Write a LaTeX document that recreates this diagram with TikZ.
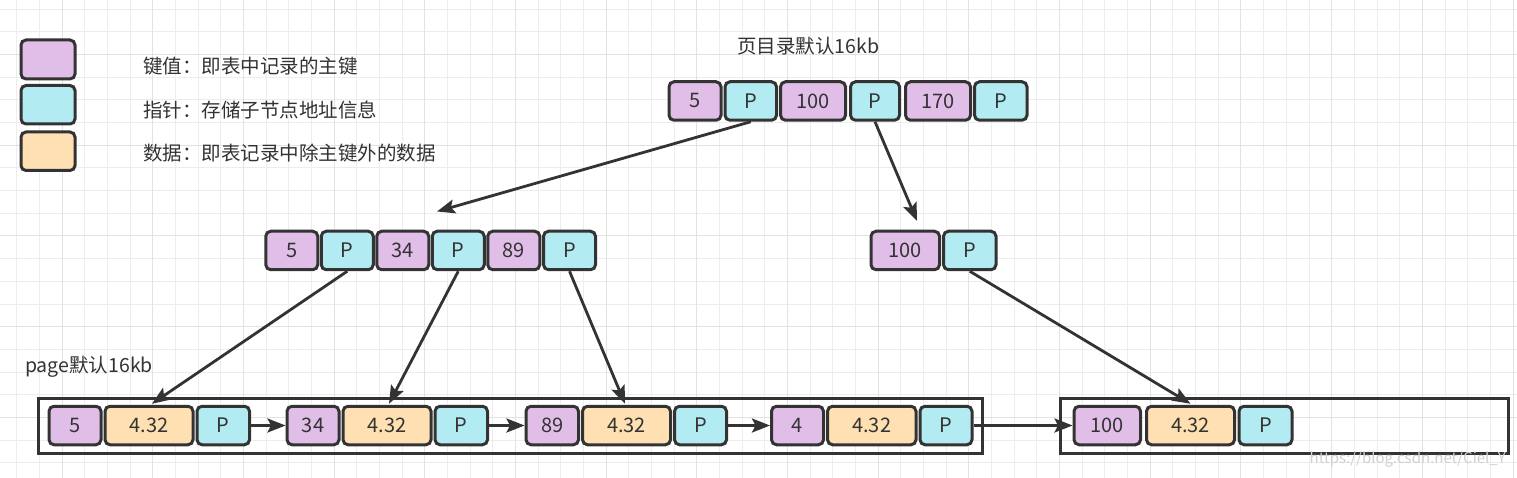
\documentclass[tikz,border=0pt]{standalone}
\usepackage{fontspec}
\setmainfont{Noto Sans CJK SC}
\usetikzlibrary{arrows.meta}

\definecolor{keyc}{HTML}{E1BEE7}
\definecolor{ptrc}{HTML}{B2EBF2}
\definecolor{datc}{HTML}{FFE0B2}
\definecolor{edge}{HTML}{333333}
\definecolor{txt}{HTML}{333333}
\definecolor{gridminor}{HTML}{EDEDED}
\definecolor{gridmajor}{HTML}{E2E2E2}
\definecolor{markc}{HTML}{D0D0D0}

\newcommand{\cellfont}{\fontsize{20}{22}\selectfont}
\newcommand{\lblfont}{\fontsize{19.5}{22}\selectfont}

\tikzset{
  cellbox/.style={draw=edge, line width=3pt, rounded corners=5pt, inner sep=0pt,
                  minimum height=38.5pt, font=\cellfont, text=txt},
  keycell/.style={cellbox, fill=keyc},
  ptrcell/.style={cellbox, fill=ptrc},
  datcell/.style={cellbox, fill=datc},
  link/.style={draw=edge, line width=2.8pt, -{Stealth[length=18pt,width=14pt,inset=3.5pt]}},
  pagebox/.style={draw=edge, line width=3pt},
  lbl/.style={font=\lblfont, text=txt, inner sep=0pt, anchor=west},
}

\begin{document}
\begin{tikzpicture}[x=1pt,y=-1pt]
\useasboundingbox (0,0) rectangle (1517,478);
\fill[white] (0,0) rectangle (1517,478);

% background grid
\foreach \k in {0,...,66}{
  \pgfmathsetmacro\gx{16.8+22.67*\k}
  \draw[gridminor, line width=1pt] (\gx,0) -- (\gx,478);
}
\foreach \k in {0,...,20}{
  \pgfmathsetmacro\gy{9.3+22.67*\k}
  \draw[gridminor, line width=1pt] (0,\gy) -- (1517,\gy);
}
\foreach \k in {2,6,...,66}{
  \pgfmathsetmacro\gx{16.8+22.67*\k}
  \draw[gridmajor, line width=1pt] (\gx,0) -- (\gx,478);
}
\foreach \k in {2,6,...,18}{
  \pgfmathsetmacro\gy{9.3+22.67*\k}
  \draw[gridmajor, line width=1pt] (0,\gy) -- (1517,\gy);
}

% legend
\node[keycell, minimum width=54pt, minimum height=39pt] (legkey) at (48,59.5) {};
\node[ptrcell, minimum width=54pt, minimum height=38.5pt] (legptr) at (48,104.75) {};
\node[datcell, minimum width=54pt, minimum height=38.5pt] (legdat) at (48,151.25) {};
\node[lbl] (legkeytxt) at (143,66) {键值：即表中记录的主键};
\node[lbl] (legptrtxt) at (143,110) {指针：存储子节点地址信息};
\node[lbl] (legdattxt) at (143,153) {数据：即表记录中除主键外的数据};

% root page
\node[lbl] (roottitle) at (737,46.5) {页目录默认16kb};
\begin{scope}[every node/.append style={minimum height=37pt}]
\node[keycell, minimum width=52pt]   (r5)   at (695,101)    {5};
\node[ptrcell, minimum width=51.5pt] (rP1)  at (750.75,101) {P};
\node[keycell, minimum width=65pt]   (r100) at (813,101)    {100};
\node[ptrcell, minimum width=49pt]   (rP2)  at (875,101)    {P};
\node[keycell, minimum width=65pt]   (r170) at (938,101)    {170};
\node[ptrcell, minimum width=52.5pt] (rP3)  at (1000.75,101) {P};
\end{scope}

% internal pages
\begin{scope}[every node/.append style={minimum width=52pt}]
\node[keycell] (m5)  at (291.75,250.5) {5};
\node[ptrcell] (mP1) at (347.25,250.5) {P};
\node[keycell] (m34) at (402.75,250.5) {34};
\node[ptrcell] (mP2) at (458.25,250.5) {P};
\node[keycell] (m89) at (513.75,250.5) {89};
\node[ptrcell] (mP3) at (569.5,250.5)  {P};
\end{scope}
\node[keycell, minimum width=68.5pt] (n100) at (905.25,250.5) {100};
\node[ptrcell, minimum width=52.5pt] (nP)   at (969.75,250.5) {P};

% leaf pages
\node[lbl] (leaftitle) at (25,367) {page默认16kb};
\draw[pagebox] (38.8,398) rectangle (982.7,453);
\draw[pagebox] (1060,398) rectangle (1508,453.3);

\begin{scope}[every node/.append style={minimum height=39pt}]
\node[keycell, minimum width=52pt]   (g1k) at (75,425.5)     {5};
\node[datcell, minimum width=88pt]   (g1d) at (149,425.5)    {4.32};
\node[ptrcell, minimum width=52.5pt] (g1p) at (223.25,425.5) {P};

\node[keycell, minimum width=52pt]   (g2k) at (313,425.5)    {34};
\node[datcell, minimum width=88pt]   (g2d) at (387,425.5)    {4.32};
\node[ptrcell, minimum width=52.5pt] (g2p) at (461.25,425.5) {P};

\node[keycell, minimum width=52.5pt] (g3k) at (552.25,425.5) {89};
\node[datcell, minimum width=88pt]   (g3d) at (626.5,425.5)  {4.32};
\node[ptrcell, minimum width=52pt]   (g3p) at (700.5,425.5)  {P};

\node[keycell, minimum width=52pt]   (g4k) at (797.5,425.5)  {4};
\node[datcell, minimum width=88.5pt] (g4d) at (871.75,425.5) {4.32};
\node[ptrcell, minimum width=52pt]   (g4p) at (946,425.5)    {P};

\node[keycell, minimum width=66.5pt] (g5k) at (1107.25,425.5) {100};
\node[datcell, minimum width=88pt]   (g5d) at (1190.5,425.5)  {4.32};
\node[ptrcell, minimum width=53pt]   (g5p) at (1265.5,425.5)  {P};
\end{scope}

% tree links
\coordinate (tipA) at (437,211.5);
\coordinate (tipB) at (917,221);
\draw[link] (rP1.south) -- (tipA);
\draw[link] (rP2.south) -- (tipB);
\draw[link] (mP1.south) -- ([xshift=3pt,yshift=1pt]g1d.north);
\draw[link] (mP2.south) -- ([xshift=2pt,yshift=1pt]g2d.north);
\draw[link] (mP3.south) -- ([xshift=-1.5pt,yshift=1pt]g3d.north);
\draw[link] (nP.south)  -- ([yshift=1pt]g5d.north);

% leaf chain
\draw[link] (g1p.east) -- (g2k.west);
\draw[link] (g2p.east) -- (g3k.west);
\draw[link] (g3p.east) -- (g4k.west);
\draw[link] (g4p.east) -- (g5k.west);

% site mark
\node[font=\fontsize{15}{17}\selectfont, text=markc, inner sep=0pt, anchor=east] (mark) at (1506,459) {https://blog.csdn.net/Ciel\_Y};
\end{tikzpicture}
\end{document}
